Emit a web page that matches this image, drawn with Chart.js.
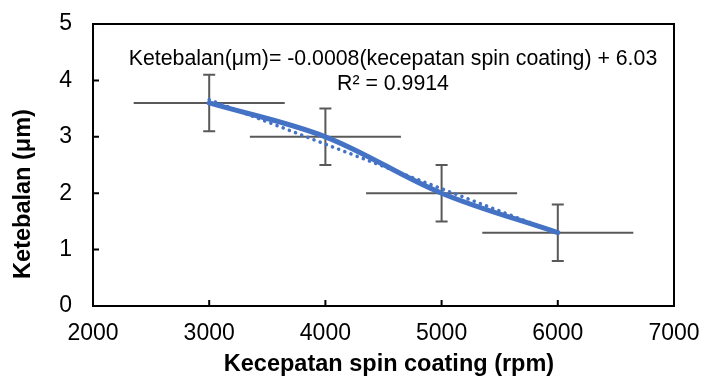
<!DOCTYPE html>
<html>
<head>
<meta charset="utf-8">
<script src="https://cdn.jsdelivr.net/npm/chart.js@4.4.0/dist/chart.umd.min.js"></script>
<style>
  html, body { margin: 0; padding: 0; background: #fff; }
  #wrap { width: 702px; height: 378px; }
</style>
</head>
<body>
<div id="wrap"><canvas id="thicknessChart" width="702" height="378"></canvas></div>
<script>
const speeds = [3000, 4000, 5000, 6000];
const thickness = [3.6, 3.0, 2.0, 1.3];
const speedErr = [650, 650, 650, 650];
const thicknessErr = [0.5, 0.5, 0.5, 0.5];
const trendX = [3000, 6000];
const trendY = [3.66, 1.29];
const xTicks = [2000, 3000, 4000, 5000, 6000, 7000];
const yTicks = [0, 1, 2, 3, 4, 5];
const equationText = "Ketebalan(μm)= -0.0008(kecepatan spin coating) + 6.03";
const r2Text = "R² = 0.9914";
const xTitle = "Kecepatan spin coating (rpm)";
const yTitle = "Ketebalan (μm)";

const FONT = "Arial, 'Liberation Sans', sans-serif";
const blue = "#4472C4";
const grey = "#595959";

const mainPoints = speeds.map((x, i) => ({ x: x, y: thickness[i] }));
const trendPoints = trendX.map((x, i) => ({ x: x, y: trendY[i] }));

const errorBars = {
  id: "errorBars",
  beforeDatasetsDraw(chart) {
    const { ctx, scales: { x, y } } = chart;
    ctx.save();
    ctx.strokeStyle = grey;
    ctx.lineWidth = 2;
    speeds.forEach((s, i) => {
      const px = x.getPixelForValue(s);
      const py = y.getPixelForValue(thickness[i]);
      const x0 = x.getPixelForValue(s - speedErr[i]);
      const x1 = x.getPixelForValue(s + speedErr[i]);
      const y0 = y.getPixelForValue(thickness[i] + thicknessErr[i]);
      const y1 = y.getPixelForValue(thickness[i] - thicknessErr[i]);
      ctx.beginPath();
      ctx.moveTo(x0, py); ctx.lineTo(x1, py);
      ctx.moveTo(px, y0); ctx.lineTo(px, y1);
      ctx.moveTo(px - 6, y0); ctx.lineTo(px + 6, y0);
      ctx.moveTo(px - 6, y1); ctx.lineTo(px + 6, y1);
      ctx.stroke();
    });
    ctx.restore();
  }
};

const frame = {
  id: "frame",
  afterDraw(chart) {
    const { ctx, chartArea: a, scales: { x, y } } = chart;
    ctx.save();
    ctx.strokeStyle = "#000";
    ctx.lineWidth = 2;
    ctx.strokeRect(a.left, a.top, a.right - a.left, a.bottom - a.top);
    ctx.beginPath();
    xTicks.forEach(t => {
      const px = x.getPixelForValue(t);
      ctx.moveTo(px, a.bottom); ctx.lineTo(px, a.bottom - 6);
    });
    yTicks.forEach(t => {
      const py = y.getPixelForValue(t);
      ctx.moveTo(a.left, py); ctx.lineTo(a.left + 6, py);
    });
    ctx.stroke();

    ctx.fillStyle = "#000";
    ctx.textAlign = "center";
    ctx.textBaseline = "alphabetic";
    ctx.font = "21.3px " + FONT;
    ctx.fillText(equationText, 393, 65);
    ctx.fillText(r2Text, 393, 90);

    ctx.font = "bold 23.5px " + FONT;
    ctx.textBaseline = "middle";
    ctx.fillText(xTitle, 389, 365);
    ctx.translate(24, 194);
    ctx.rotate(-Math.PI / 2);
    ctx.fillText(yTitle, 0, 0);
    ctx.restore();
  }
};

function noPad(scale) {
  scale.paddingLeft = 0;
  scale.paddingRight = 0;
  scale.paddingTop = 0;
  scale.paddingBottom = 0;
}

new Chart(document.getElementById("thicknessChart"), {
  type: "scatter",
  data: {
    datasets: [
      {
        label: "Ketebalan",
        data: mainPoints,
        showLine: true,
        borderColor: blue,
        backgroundColor: blue,
        borderWidth: 5,
        tension: 0.35,
        pointRadius: 0,
        borderCapStyle: "round"
      },
      {
        label: "Linear",
        data: trendPoints,
        showLine: true,
        borderColor: blue,
        borderWidth: 3.5,
        borderDash: [0.1, 6.5],
        borderCapStyle: "round",
        pointRadius: 0
      }
    ]
  },
  options: {
    responsive: false,
    animation: false,
    layout: { padding: { top: 24, right: 28, left: 0, bottom: 0 } },
    plugins: {
      legend: { display: false },
      tooltip: { enabled: false }
    },
    scales: {
      x: {
        type: "linear",
        min: 2000,
        max: 7000,
        afterFit(scale) { scale.height = 72; noPad(scale); },
        afterBuildTicks(scale) { scale.ticks = xTicks.map(v => ({ value: v })); },
        grid: { display: false, drawTicks: false },
        border: { display: false },
        ticks: {
          color: "#000",
          font: { size: 23, family: FONT },
          padding: 14,
          maxRotation: 0,
          callback: v => String(v)
        }
      },
      y: {
        type: "linear",
        min: 0,
        max: 5,
        afterFit(scale) { scale.width = 93; noPad(scale); },
        afterBuildTicks(scale) { scale.ticks = yTicks.map(v => ({ value: v })); },
        grid: { display: false, drawTicks: false },
        border: { display: false },
        ticks: {
          color: "#000",
          font: { size: 23, family: FONT },
          padding: 21,
          callback: v => String(v)
        }
      }
    }
  },
  plugins: [errorBars, frame]
});
</script>
</body>
</html>
